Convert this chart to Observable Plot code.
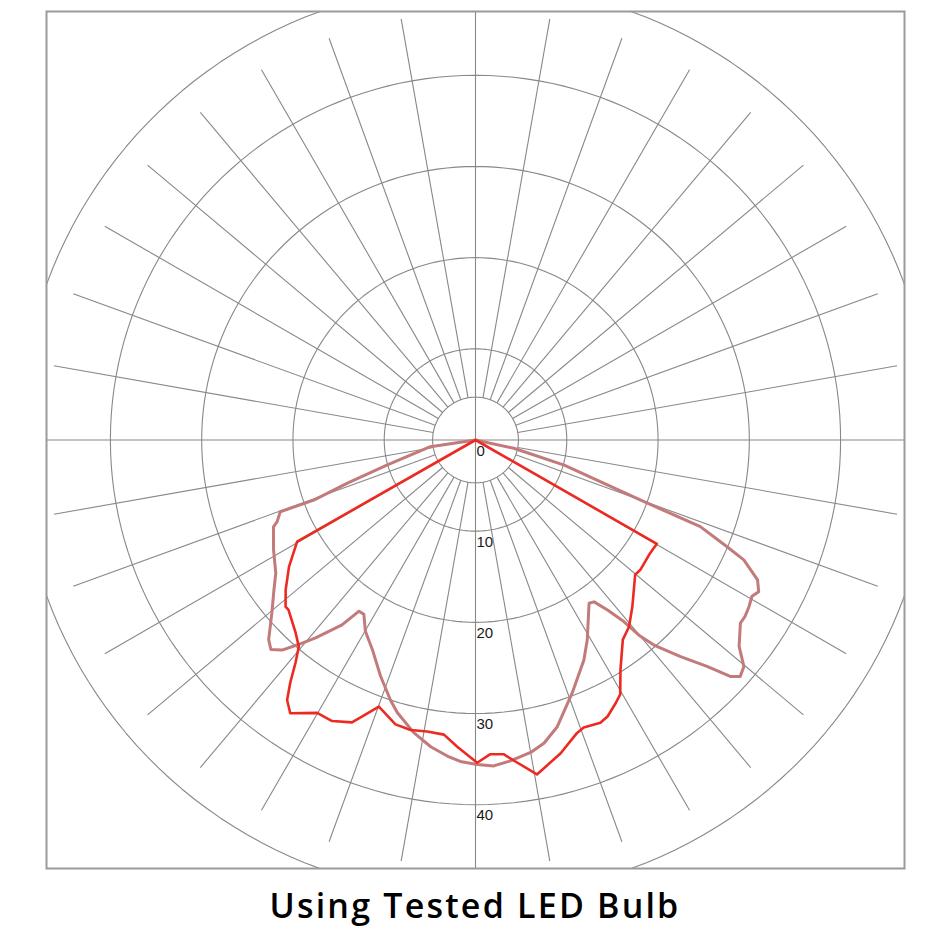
<!DOCTYPE html>
<html><head><meta charset="utf-8">
<script src="https://cdn.jsdelivr.net/npm/d3@7"></script>
<script src="https://cdn.jsdelivr.net/npm/@observablehq/plot@0.6"></script>
<style>
body{margin:0;background:#fff;}
#chart svg{display:block;}
#title{width:950px;text-align:center;font-family:"Open Sans",sans-serif;font-weight:600;font-size:34px;letter-spacing:2.2px;color:#000;line-height:50px;}
</style></head><body>
<div id="chart"></div>
<div id="title">Using Tested LED Bulb</div>
<script>
// Polar luminous-intensity curves: angle from nadir (deg, + to the right) and value
const redAngles = [-90, -60.3, -55.8, -51.7, -48.7, -47.7, -43.0, -40.5, -38.9, -37.3, -35.9, -34.1, -30.1, -27.0, -23.6, -22.3, -19.9, -15.7, -12.6, -9.4, -6.1, -3.4, 0.3, 2.7, 5.1, 7.4, 10.4, 15.2, 19.1, 20.6, 23.8, 25.5, 28.0, 29.6, 32.2, 36.4, 39.4, 43.2, 49.8, 51.8, 57.1, 60.2, 90];
const redValues = [0, 22.5, 24.7, 26.5, 27.7, 27.7, 28.9, 29.8, 31.4, 33.5, 35.2, 36.2, 34.6, 34.6, 33.8, 32.8, 31.1, 32.4, 32.6, 32.4, 32.5, 33.7, 35.4, 34.5, 34.6, 35.7, 37.3, 35.6, 34.0, 33.7, 33.9, 33.6, 32.7, 32.1, 29.8, 27.2, 26.5, 25.1, 22.9, 23.0, 22.8, 22.9, 0];

const roseAngles = [-90, -81.5, -74.2, -71.4, -69.6, -69.8, -67.6, -66.7, -61.4, -56.3, -53.4, -49.6, -48.2, -46.0, -44.3, -42.6, -40.8, -38.9, -35.8, -34.2, -32.6, -29.9, -26.2, -21.9, -18.1, -16.0, -11.9, -8.3, -5.1, -2.7, 0.3, 3.2, 6.2, 10.0, 12.7, 15.9, 20.9, 26.2, 29.2, 34.8, 36.2, 37.8, 39.2, 40.0, 41.0, 43.4, 45.6, 47.1, 48.2, 49.8, 51.9, 55.3, 56.8, 58.6, 60.5, 61.8, 63.6, 65.9, 67.0, 68.9, 69.9, 71.4, 74.2, 77.8, 90];
const roseValues = [0, 5.0, 10.1, 14.8, 18.9, 22.8, 23.5, 24.1, 25.2, 26.3, 27.5, 29.3, 30.1, 31.5, 32.1, 31.3, 29.6, 27.9, 25.0, 22.7, 22.7, 24.2, 25.6, 27.9, 30.0, 31.1, 32.8, 34.0, 34.8, 35.3, 35.6, 35.8, 35.4, 34.8, 34.1, 32.7, 29.7, 26.9, 25.1, 21.8, 22.0, 23.6, 25.7, 28.1, 29.8, 32.7, 35.5, 38.1, 38.9, 38.5, 36.7, 35.3, 35.3, 35.1, 34.8, 35.2, 34.5, 32.2, 29.9, 26.4, 19.6, 14.8, 10.1, 4.3, 0];

const ringValues = [4.7, 10, 20, 30, 40, 50];
const ringLabels = ["0", "10", "20", "30", "40"];
const ringLabelValues = [0, 10, 20, 30, 40];
const spokeStep = 10;
const spokeInner = 4.7, spokeOuter = 46.9;

const rad = d => d * Math.PI / 180;
const px = (a, v) => v * Math.sin(rad(a));
const py = (a, v) => -v * Math.cos(rad(a));

const red = redAngles.map((a, i) => ({a, v: redValues[i]}));
const rose = roseAngles.map((a, i) => ({a, v: roseValues[i]}));
const circles = ringValues.flatMap(R => d3.range(0, 361, 2).map(a => ({R, a})));
const spokes = d3.range(spokeStep, 360, spokeStep).filter(a => a % 90 !== 0);
const labels = ringLabelValues.map((v, i) => ({v, t: ringLabels[i]}));

const grid = "#888888";
const chart = Plot.plot({
  width: 950, height: 880,
  marginLeft: 46, marginRight: 46, marginTop: 11, marginBottom: 12,
  x: {domain: [-47, 47], axis: null},
  y: {domain: [-47, 47], axis: null},
  style: {background: "white"},
  marks: [
    Plot.line(circles, {x: d => px(d.a, d.R), y: d => py(d.a, d.R), z: "R", stroke: grid, strokeWidth: 1.1, clip: true}),
    Plot.link(spokes, {x1: a => px(a, spokeInner), y1: a => py(a, spokeInner), x2: a => px(a, spokeOuter), y2: a => py(a, spokeOuter), stroke: grid, strokeWidth: 1.1}),
    Plot.ruleX([0], {stroke: grid, strokeWidth: 1.1}),
    Plot.ruleY([0], {stroke: grid, strokeWidth: 1.1}),
    Plot.text(labels, {x: 0, y: d => -d.v, text: "t", dy: 11, dx: 1, textAnchor: "start", fontSize: 15, fill: "#1a1a1a", fontFamily: "Liberation Sans, Arial, sans-serif"}),
    Plot.line(rose, {x: d => px(d.a, d.v), y: d => py(d.a, d.v), stroke: "#c27a7a", strokeWidth: 3, strokeLinejoin: "round"}),
    Plot.line(red, {x: d => px(d.a, d.v), y: d => py(d.a, d.v), stroke: "#ec2a22", strokeWidth: 2.6, strokeLinejoin: "round"}),
    Plot.frame({stroke: "#9a9a9a", strokeWidth: 2})
  ]
});
document.getElementById("chart").appendChild(chart);
</script>
</body></html>
